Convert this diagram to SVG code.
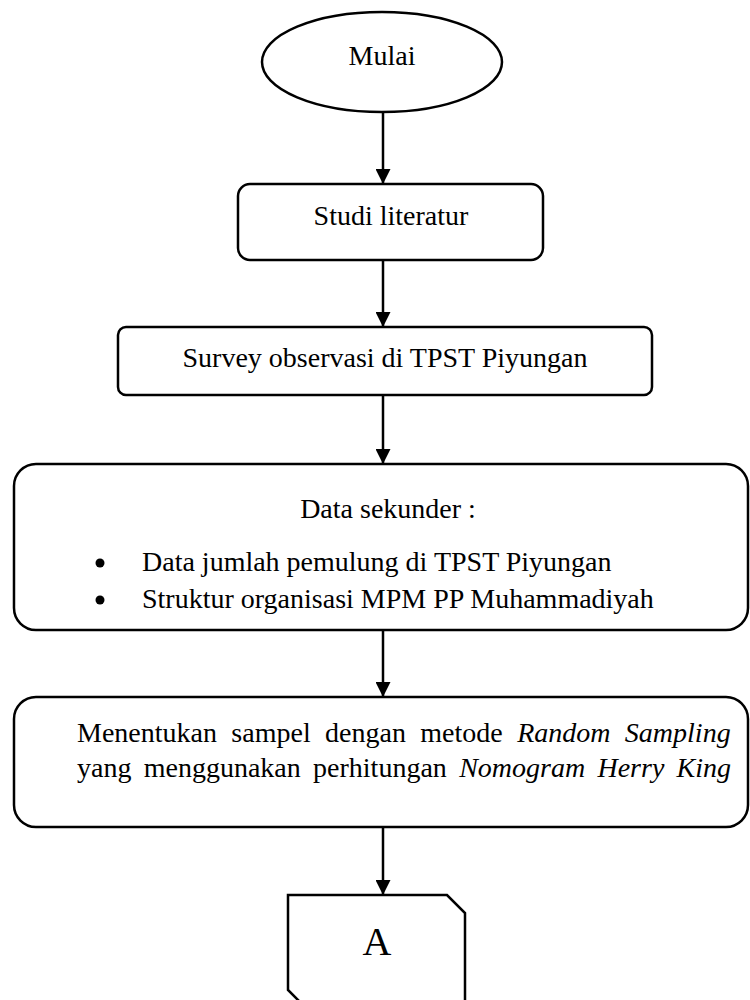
<svg xmlns="http://www.w3.org/2000/svg" width="750" height="1000" viewBox="0 0 750 1000">
<style>
.shape{fill:#fff;stroke:#000;stroke-width:2.5}
.t{font-family:"Liberation Serif","Times New Roman",serif;font-size:28px;fill:#000}
.c{text-anchor:middle}
.i{font-style:italic}
.conn line{stroke:#000;stroke-width:2.5;marker-end:url(#arr)}
</style>
<defs>
<marker id="arr" viewBox="0 0 16 16" refX="16" refY="8" markerWidth="15" markerHeight="15" markerUnits="userSpaceOnUse" orient="auto">
<path d="M0,0 L16,8 L0,16 Z" fill="#000"/>
</marker>
</defs>
<rect width="750" height="1000" fill="#fff"/>
<g id="mulai">
<ellipse class="shape" cx="382" cy="62" rx="120" ry="50"/>
<text class="t c" x="382" y="65">Mulai</text>
</g>
<g id="studi">
<rect class="shape" x="238" y="184" width="305" height="76" rx="12"/>
<text class="t c" x="391" y="225">Studi literatur</text>
</g>
<g id="survey">
<rect class="shape" x="118" y="327" width="534" height="68" rx="8"/>
<text class="t c" x="385" y="367">Survey observasi di TPST Piyungan</text>
</g>
<g id="data">
<rect class="shape" x="14" y="464" width="734" height="166" rx="22"/>
<text class="t c" x="388" y="518">Data sekunder :</text>
<circle cx="100" cy="563" r="4.5"/>
<circle cx="100" cy="600" r="4.5"/>
<text class="t" x="142" y="571">Data jumlah pemulung di TPST Piyungan</text>
<text class="t" x="142" y="608">Struktur organisasi MPM PP Muhammadiyah</text>
</g>
<g id="sampel">
<rect class="shape" x="14" y="697" width="734" height="130" rx="22"/>
<text class="t" x="77" y="742" word-spacing="7.4">Menentukan sampel dengan metode <tspan class="i">Random Sampling</tspan></text>
<text class="t" x="77" y="777" word-spacing="5.3">yang menggunakan perhitungan <tspan class="i">Nomogram Herry King</tspan></text>
</g>
<g id="A">
<path class="shape" d="M288,895 H447 L465,913 V1008 H306 L288,990 Z"/>
<text class="t c" x="377" y="955" style="font-size:40px">A</text>
</g>
<g id="connectors" class="conn">
<line x1="383" y1="112" x2="383" y2="184"/>
<line x1="383" y1="260" x2="383" y2="327"/>
<line x1="383" y1="395" x2="383" y2="464"/>
<line x1="383" y1="630" x2="383" y2="697"/>
<line x1="383" y1="827" x2="383" y2="895"/>
</g>
</svg>
